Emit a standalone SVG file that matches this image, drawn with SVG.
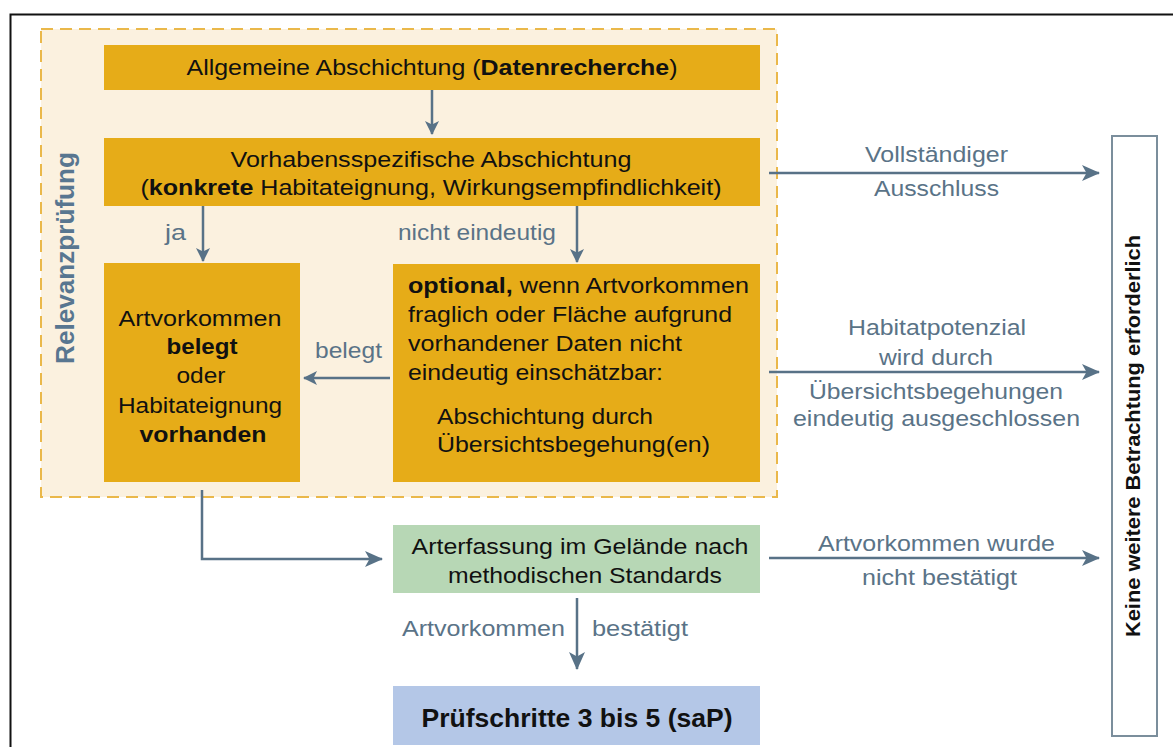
<svg xmlns="http://www.w3.org/2000/svg" width="1173" height="747" viewBox="0 0 1173 747">
<defs>
<marker id="ah" viewBox="0 0 14 14" refX="13" refY="7" markerWidth="14" markerHeight="14" markerUnits="userSpaceOnUse" orient="auto">
<path d="M0,0 L14,7 L0,14 L3.5,7 Z" fill="#587287"/>
</marker>
<marker id="ahb" viewBox="0 0 18 16" refX="17" refY="8" markerWidth="18" markerHeight="16" markerUnits="userSpaceOnUse" orient="auto">
<path d="M0,0 L18,8 L0,16 L4.5,8 Z" fill="#587287"/>
</marker>
</defs>
<style>
.t{font-family:"Liberation Sans",Arial,sans-serif;font-size:22px;fill:#111}
.c{text-anchor:middle}
.b{font-weight:bold}
.lab{font-family:"Liberation Sans",Arial,sans-serif;font-size:22px;fill:#5a7387}
.y{fill:#e6ac18}
.con{stroke:#587287;stroke-width:2.5;fill:none}
</style>
<rect x="0" y="0" width="1173" height="747" fill="#ffffff"/>
<rect x="10.5" y="14.5" width="1180" height="760" fill="none" stroke="#111" stroke-width="2"/>
<g id="relevanz">
<rect x="41" y="29" width="736" height="468" fill="#fbf1df" stroke="#eab84a" stroke-width="2" stroke-dasharray="12,7"/>
<text class="lab b" transform="translate(74,258) rotate(-90)" text-anchor="middle" style="font-size:25px;fill:#587690" textLength="212" lengthAdjust="spacingAndGlyphs">Relevanzprüfung</text>
</g>
<g id="n1">
<rect class="y" x="104" y="45" width="656" height="45"/>
<text class="t c" x="432" y="75" textLength="491" lengthAdjust="spacingAndGlyphs">Allgemeine Abschichtung (<tspan class="b">Datenrecherche</tspan>)</text>
</g>
<g id="n2">
<rect class="y" x="104" y="138" width="656" height="68"/>
<text class="t c" x="431" y="167" textLength="401" lengthAdjust="spacingAndGlyphs">Vorhabensspezifische Abschichtung</text>
<text class="t c" x="431" y="195" textLength="581" lengthAdjust="spacingAndGlyphs">(<tspan class="b">konkrete</tspan> Habitateignung, Wirkungsempfindlichkeit)</text>
</g>
<g id="n3">
<rect class="y" x="104" y="263" width="196" height="219"/>
<text class="t c" x="200" y="326" textLength="163" lengthAdjust="spacingAndGlyphs">Artvorkommen</text>
<text class="t c b" x="202" y="354" textLength="71" lengthAdjust="spacingAndGlyphs">belegt</text>
<text class="t c" x="201" y="383" textLength="49" lengthAdjust="spacingAndGlyphs">oder</text>
<text class="t c" x="200" y="413" textLength="164" lengthAdjust="spacingAndGlyphs">Habitateignung</text>
<text class="t c b" x="203" y="442" textLength="127" lengthAdjust="spacingAndGlyphs">vorhanden</text>
</g>
<g id="n4">
<rect class="y" x="393" y="264" width="367" height="218"/>
<text class="t" x="408" y="293" textLength="341" lengthAdjust="spacingAndGlyphs"><tspan class="b">optional,</tspan> wenn Artvorkommen</text>
<text class="t" x="408" y="322" textLength="324" lengthAdjust="spacingAndGlyphs">fraglich oder Fläche aufgrund</text>
<text class="t" x="408" y="351" textLength="274" lengthAdjust="spacingAndGlyphs">vorhandener Daten nicht</text>
<text class="t" x="408" y="380" textLength="255" lengthAdjust="spacingAndGlyphs">eindeutig einschätzbar:</text>
<text class="t" x="437" y="424" textLength="216" lengthAdjust="spacingAndGlyphs">Abschichtung durch</text>
<text class="t" x="437" y="452" textLength="273" lengthAdjust="spacingAndGlyphs">Übersichtsbegehung(en)</text>
</g>
<g id="n5">
<rect x="393" y="525" width="367" height="68" fill="#b7d7b5"/>
<text class="t c" x="580" y="554" textLength="337" lengthAdjust="spacingAndGlyphs">Arterfassung im Gelände nach</text>
<text class="t c" x="585" y="583" textLength="274" lengthAdjust="spacingAndGlyphs">methodischen Standards</text>
</g>
<g id="n6">
<rect x="393" y="686" width="367" height="59" fill="#b4c7e7"/>
<text class="t c b" x="577" y="727" style="font-size:25px" textLength="311" lengthAdjust="spacingAndGlyphs">Prüfschritte 3 bis 5 (saP)</text>
</g>
<g id="n7">
<rect x="1112" y="136" width="45" height="600" fill="#ffffff" stroke="#7b8e9c" stroke-width="2"/>
<text class="t c b" transform="translate(1140,436) rotate(-90)" style="font-size:20px" textLength="402" lengthAdjust="spacingAndGlyphs">Keine weitere Betrachtung erforderlich</text>
</g>
<g id="connectors">
<line class="con" x1="432" y1="90" x2="432" y2="134" marker-end="url(#ah)"/>
<line class="con" x1="203" y1="206" x2="203" y2="261" marker-end="url(#ah)"/>
<line class="con" x1="577" y1="206" x2="577" y2="262" marker-end="url(#ah)"/>
<line class="con" x1="390" y1="378" x2="304" y2="378" marker-end="url(#ah)"/>
<line class="con" x1="769" y1="173" x2="1099" y2="173" marker-end="url(#ahb)"/>
<line class="con" x1="769" y1="372" x2="1099" y2="372" marker-end="url(#ahb)"/>
<polyline class="con" points="202,490 202,559 382,559" marker-end="url(#ahb)"/>
<line class="con" x1="769" y1="558" x2="1099" y2="558" marker-end="url(#ahb)"/>
<line class="con" x1="577" y1="598" x2="577" y2="669" marker-end="url(#ahb)"/>
</g>
<g id="labels">
<text class="lab c" x="175.5" y="240" textLength="21" lengthAdjust="spacingAndGlyphs">ja</text>
<text class="lab c" x="477" y="240" textLength="158" lengthAdjust="spacingAndGlyphs">nicht eindeutig</text>
<text class="lab c" x="348.5" y="358" textLength="67" lengthAdjust="spacingAndGlyphs">belegt</text>
<text class="lab c" x="936.5" y="162" textLength="143" lengthAdjust="spacingAndGlyphs">Vollständiger</text>
<text class="lab c" x="936.5" y="196" textLength="125" lengthAdjust="spacingAndGlyphs">Ausschluss</text>
<text class="lab c" x="937" y="335" textLength="178" lengthAdjust="spacingAndGlyphs">Habitatpotenzial</text>
<text class="lab c" x="936" y="365" textLength="114" lengthAdjust="spacingAndGlyphs">wird durch</text>
<text class="lab c" x="936" y="399" textLength="254" lengthAdjust="spacingAndGlyphs">Übersichtsbegehungen</text>
<text class="lab c" x="936.5" y="426" textLength="287" lengthAdjust="spacingAndGlyphs">eindeutig ausgeschlossen</text>
<text class="lab c" x="936.5" y="551" textLength="237" lengthAdjust="spacingAndGlyphs">Artvorkommen wurde</text>
<text class="lab c" x="939.5" y="585" textLength="155" lengthAdjust="spacingAndGlyphs">nicht bestätigt</text>
<text class="lab" x="402" y="636" textLength="163" lengthAdjust="spacingAndGlyphs">Artvorkommen</text>
<text class="lab" x="592" y="636" textLength="96" lengthAdjust="spacingAndGlyphs">bestätigt</text>
</g>
</svg>
